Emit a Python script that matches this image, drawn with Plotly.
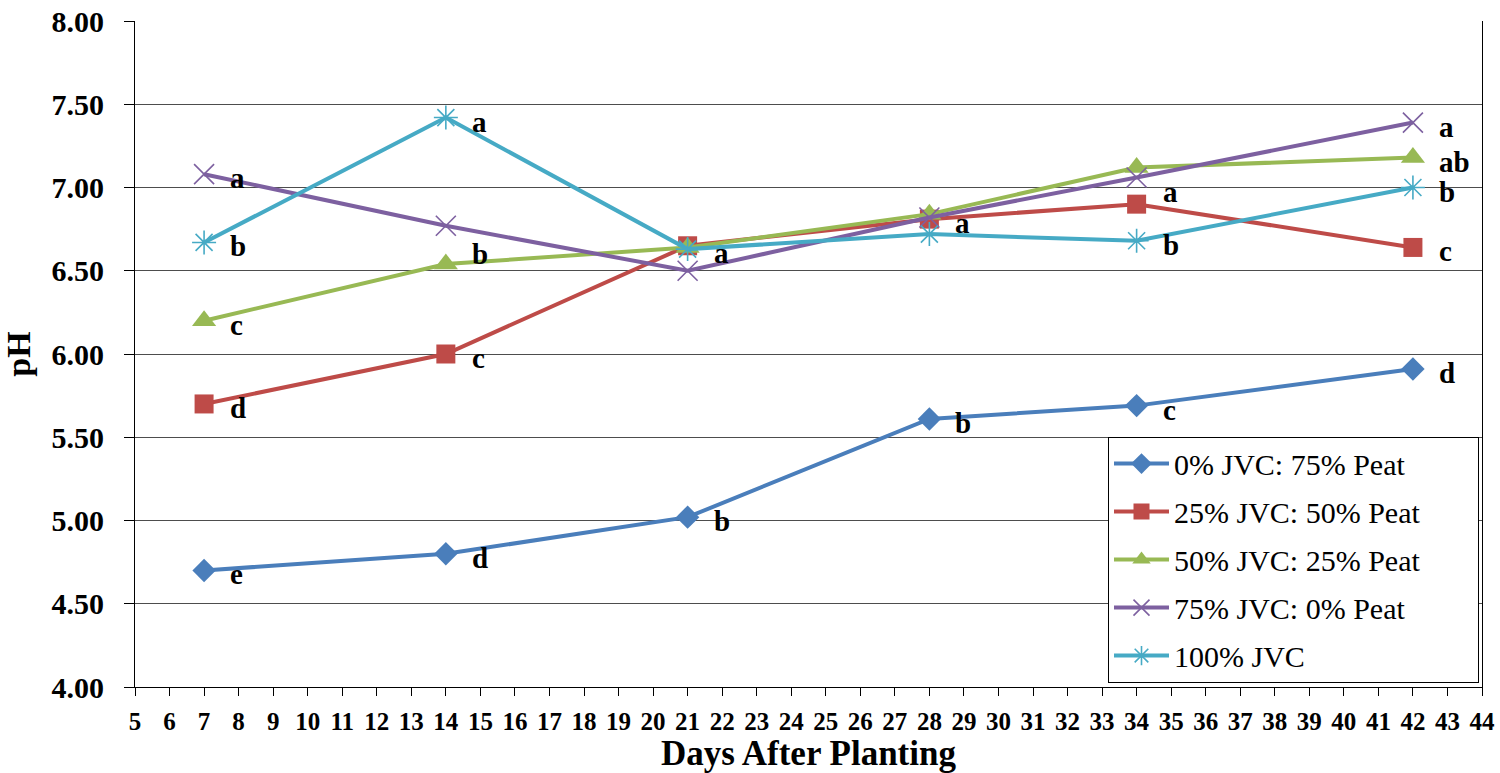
import plotly.graph_objects as go

days = [7, 14, 21, 28, 34, 42]

series_names = ["0% JVC: 75% Peat", "25% JVC: 50% Peat", "50% JVC: 25% Peat",
                "75% JVC: 0% Peat", "100% JVC"]
ph_0 = [4.70, 4.80, 5.02, 5.61, 5.69, 5.91]
ph_25 = [5.70, 6.00, 6.65, 6.81, 6.90, 6.64]
ph_50 = [6.20, 6.54, 6.64, 6.84, 7.12, 7.18]
ph_75 = [7.08, 6.77, 6.50, 6.82, 7.06, 7.39]
ph_100 = [6.67, 7.42, 6.63, 6.72, 6.68, 7.00]

lab_0 = ["e", "d", "b", "b", "c", "d"]
lab_25 = ["d", "c", "", "a", "a", "c"]
lab_50 = ["c", "b", "", "", "", "ab"]
lab_75 = ["a", "", "", "", "", "a"]
lab_100 = ["b", "a", "a", "", "b", "b"]

x_ticks = list(range(5, 45))
y_ticks = [4.0, 4.5, 5.0, 5.5, 6.0, 6.5, 7.0, 7.5, 8.0]

FONT = "Liberation Serif, Times New Roman, serif"

styles = [
    dict(color="#4A7EBB", symbol="diamond", size=18, mline=0),
    dict(color="#BE4B48", symbol="square", size=19, mline=0),
    dict(color="#98B954", symbol="triangle-up", size=21, mline=0),
    dict(color="#7D60A0", symbol="x-thin-open", size=20, mline=1.6),
    dict(color="#46AAC5", symbol="asterisk-open", size=20, mline=1.6),
]
values = [ph_0, ph_25, ph_50, ph_75, ph_100]
labels = [lab_0, lab_25, lab_50, lab_75, lab_100]

fig = go.Figure()
for i, (name, vals, st) in enumerate(zip(series_names, values, styles)):
    mk = dict(symbol=st["symbol"], size=st["size"], color=st["color"])
    if st["mline"]:
        mk["line"] = dict(color=st["color"], width=st["mline"])
    # pad the legend text so the box spans like the reference
    legend_name = name + ("\u00a0" * 7 if i == 1 else "")
    fig.add_trace(go.Scatter(
        x=days, y=vals, name=legend_name, mode="lines+markers",
        line=dict(color=st["color"], width=4),
        marker=mk, legendgroup=f"g{i}",
    ))

# label vertical nudges (pixels, positive = up)
nudge = {(1, 4): 12, (2, 1): 10}
annotations = []
for si, (vals, labs) in enumerate(zip(values, labels)):
    for pi, (d, v, t) in enumerate(zip(days, vals, labs)):
        if not t:
            continue
        annotations.append(dict(
            x=d, y=v, xref="x", yref="y", text=t, showarrow=False,
            xanchor="left", yanchor="middle", xshift=24,
            yshift=nudge.get((si, pi), -4),
            font=dict(family=FONT, size=29, color="black", weight="bold"),
        ))

fig.update_layout(
    width=1500, height=773,
    margin=dict(l=135, r=18, t=21, b=86, autoexpand=False),
    paper_bgcolor="white", plot_bgcolor="white",
    font=dict(family=FONT, color="black"),
    showlegend=True,
    legend=dict(
        x=(1108 - 135) / 1347, y=0.376, xanchor="left", yanchor="top",
        bgcolor="white", bordercolor="black", borderwidth=1,
        font=dict(family=FONT, size=30, color="black"),
        itemwidth=55, tracegroupgap=6, traceorder="grouped",
    ),
    annotations=annotations,
)
fig.update_xaxes(
    range=[5, 44], tickvals=x_ticks, ticktext=[str(t) for t in x_ticks],
    showgrid=False, showline=True, linecolor="black", linewidth=1,
    ticks="outside", ticklen=8, tickcolor="black", ticklabelstandoff=4,
    tickfont=dict(family=FONT, size=25, color="black", weight="bold"),
    title=dict(text="Days After Planting", standoff=4,
               font=dict(family=FONT, size=35, color="black", weight="bold")),
    zeroline=False, automargin=False,
)
fig.update_yaxes(
    range=[4, 8], tickvals=y_ticks, tickformat=".2f",
    showgrid=True, gridcolor="#4d4d4d", gridwidth=1,
    showline=True, linecolor="black", linewidth=1, mirror=True,
    ticks="outside", ticklen=10, tickcolor="black", ticklabelstandoff=14,
    tickfont=dict(family=FONT, size=30, color="black", weight="bold"),
    title=dict(text="pH", standoff=10,
               font=dict(family=FONT, size=34, color="black", weight="bold")),
    zeroline=False, automargin=False,
)

fig.write_html(
    "out.html",
    config={"displayModeBar": False},
    post_script="document.body.style.margin='0';document.body.style.overflow='hidden';",
)
